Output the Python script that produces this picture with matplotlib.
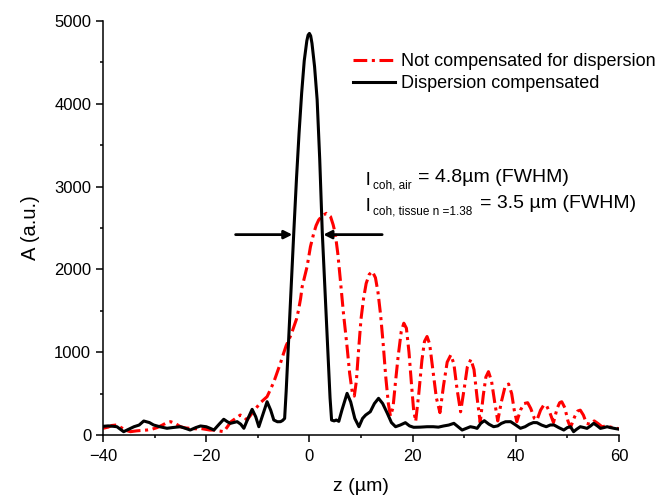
import matplotlib
matplotlib.use("Agg")
import matplotlib.pyplot as plt
from matplotlib.ticker import MultipleLocator

plt.rcParams['font.family'] = ['Liberation Sans', 'DejaVu Sans']

# not compensated for dispersion (red, dash-dot)
z_red = [-40, -39, -38.3, -37.3, -36.5, -35.5, -34.7, -33.5, -32.5, -31.5, -30.5, -29.5, -28.5,
         -27.6, -26.9, -26, -25, -24, -23, -22, -21.2, -20.2, -19.3, -18.5, -17.6, -16.6, -16,
         -15.2, -14.3, -13.4, -12.7, -12.1, -11.5, -10.8, -10.1, -9.5, -8.9, -8.2, -7.6, -6.9,
         -6.3, -5.6, -5.0, -4.5, -4.0, -3.5, -3.0, -2.5, -2.1, -1.7, -1.4, -0.9, -0.45, 0.2,
         0.84, 1.3, 1.8, 2.5, 3.3, 4.1, 4.6, 5.0, 5.5, 6.0, 6.6, 7.3, 7.8, 8.3, 8.7, 9.1, 9.5,
         10, 10.5, 11, 11.6, 12.2, 12.8, 13.3, 13.8, 14.3, 14.8, 15.3, 15.7, 16.2, 16.7, 17.2,
         17.8, 18.3, 18.8, 19.3, 19.8, 20.2, 20.6, 21.2, 21.8, 22.3, 22.8, 23.3, 23.9, 24.6,
         25.3, 26, 26.7, 27.4, 28, 28.6, 29.3, 30, 30.6, 31.3, 31.9, 32.5, 33.1, 33.7, 34.2,
         34.7, 35.3, 35.9, 36.5, 37.2, 37.9, 38.6, 39.2, 39.7, 40.2, 40.9, 41.6, 42.3, 42.9,
         43.6, 44.1, 44.8, 45.4, 45.9, 46.6, 47.3, 48, 48.5, 48.9, 49.5, 50.1, 50.6, 51.4, 52,
         52.5, 53.1, 53.7, 54.4, 55.2, 55.9, 56.7, 57.6, 58.4, 59.3, 60]
a_red = [81, 95, 115, 121, 90, 55, 40, 50, 55, 60, 70, 90, 120,
         150, 161, 140, 100, 85, 80, 75, 80, 70, 60, 60, 50, 40, 90,
         160, 201, 241, 220, 181, 230, 290, 342, 390, 423, 463, 543, 640,
         745, 870, 987, 1080, 1147, 1220, 1308, 1400, 1510, 1650, 1791, 1920, 2033, 2274,
         2436, 2530, 2597, 2650, 2677, 2637, 2540, 2436, 2194, 1872, 1470, 1066, 745, 520, 470, 650, 1000,
         1400, 1650, 1830, 1940, 1975, 1900, 1720, 1450, 1100, 700, 380, 230, 330, 650, 950,
         1250, 1350, 1290, 1000, 600, 300, 165, 500, 900, 1130, 1190, 1100, 800, 450,
         270, 600, 880, 966, 860, 560, 280, 560, 820, 914, 790, 450, 150, 480, 700,
         765, 650, 400, 170, 400, 580, 616, 500, 300, 160, 300, 380, 390, 320,
         200, 180, 300, 360, 362, 270, 150, 320, 390, 402, 330, 170, 90, 220, 290,
         300, 240, 140, 130, 170, 140, 100, 110, 95, 85, 75]

# dispersion compensated (black, solid)
z_blk = [-40, -39, -38, -37.3, -36, -35, -34, -33, -32.1, -31, -30.2, -29, -27.6, -26.5, -25,
         -24, -23.1, -22, -21.1, -20, -19.2, -18.5, -17.5, -16.6, -15.9, -15.3, -14, -13.3,
         -12.7, -11.9, -11.1, -10.4, -9.8, -9, -8.2, -7.5, -6.9, -6.2, -5.6, -5.2, -4.8, -4.5,
         -4, -3.5, -3, -2.5, -2, -1.5, -1, -0.5, -0.25, 0, 0.25, 0.5, 1, 1.5, 2, 2.5, 3, 3.5,
         4, 4.3, 4.8, 5.2, 5.7, 6.3, 7.3, 8, 8.8, 9.6, 10.3, 10.9, 11.8, 12.6, 13.4, 14.2, 15.1,
         15.9, 16.7, 17.6, 18.6, 19.4, 20.2, 21.5, 22.8, 24, 25, 26, 27, 28, 28.8, 29.6, 30.4,
         31.2, 32, 32.5, 33.2, 33.9, 34.8, 35.7, 36.5, 37.2, 38, 39, 40, 40.9, 41.8, 42.6, 43.4,
         44.1, 45, 45.9, 46.7, 47.4, 48.3, 49.3, 50, 50.6, 51.2, 51.8, 52.5, 53.2, 53.8, 54.5,
         55.1, 55.8, 56.4, 57.1, 57.7, 58.3, 59, 60]
a_blk = [105, 110, 105, 100, 40, 70, 100, 120, 169, 150, 121, 100, 81, 90, 100,
         80, 60, 90, 109, 100, 80, 60, 130, 190, 160, 141, 161, 130,
         81, 200, 310, 220, 100, 250, 402, 300, 181, 160, 161, 175, 200, 530,
         1183, 1836, 2480, 3100, 3650, 4130, 4520, 4760, 4830, 4850, 4820, 4730, 4450, 4050,
         3330, 2440, 1780, 1120, 450, 180, 170, 181, 165, 300, 503, 400, 200, 100, 200, 241,
         281, 380, 443, 380, 262, 150, 100, 120, 149, 110, 93, 95, 100, 100, 95, 109, 120, 141,
         100, 60, 80, 100, 90, 80, 140, 173, 130, 100, 110, 140, 160, 161, 120, 81, 100, 130,
         150, 149, 120, 100, 121, 121, 90, 60, 90, 100, 40, 70, 100, 90, 80, 110, 141,
         110, 80, 90, 100, 90, 81, 70]

x_ticks = [-40, -20, 0, 20, 40, 60]
y_ticks = [0, 1000, 2000, 3000, 4000, 5000]

W, H = 658, 498
fig = plt.figure(figsize=(W / 100, H / 100), dpi=100)
ax = fig.add_axes([103 / W, 1 - 435 / H, 516 / W, 414 / H])

red_line, = ax.plot(z_red, a_red, color='#ff0000', lw=2.2, label='Not compensated for dispersion')
red_line.set_dashes((4.5, 1.5, 1, 1.5))
ax.plot(z_blk, a_blk, color='black', lw=2.2, label='Dispersion compensated')

ax.set_xlim(-40, 60)
ax.set_ylim(0, 5000)
ax.set_xticks(x_ticks)
ax.set_yticks(y_ticks)
ax.xaxis.set_minor_locator(MultipleLocator(10))
ax.yaxis.set_minor_locator(MultipleLocator(500))
ax.tick_params(which='major', direction='out', length=5, width=1.1, labelsize=12)
ax.tick_params(axis='x', which='major', pad=5)
ax.tick_params(which='minor', direction='out', length=2.5, width=1.1)
for side in ['top', 'right']:
    ax.spines[side].set_visible(False)
for side in ['left', 'bottom']:
    ax.spines[side].set_linewidth(1.1)

ax.set_xlabel('z (µm)', fontsize=14, labelpad=10)
ax.set_ylabel('A (a.u.)', fontsize=14.5, labelpad=10)

ax.legend(loc='upper left', bbox_to_anchor=(353 / W, 1 - 53 / H), bbox_transform=fig.transFigure,
          frameon=False, fontsize=13, handlelength=2.3, handletextpad=0.35,
          labelspacing=0.3, borderpad=0, borderaxespad=0)

# FWHM arrows
arrow = dict(arrowstyle='-|>', color='black', lw=2.0, mutation_scale=12, shrinkA=0, shrinkB=0)
ax.annotate('', xy=(-3.3, 2420), xytext=(-14.3, 2420), arrowprops=arrow)
ax.annotate('', xy=(2.7, 2420), xytext=(14.1, 2420), arrowprops=arrow)

# coherence length labels (pixel positions)
def ptext(x, y, s, size):
    fig.text(x / W, 1 - y / H, s, fontsize=size, va='baseline', ha='left')

ptext(366, 185, 'l', 14)
ptext(373, 188, 'coh, air', 8.5)
ptext(418, 182, '= 4.8µm (FWHM)', 14)
ptext(366, 211, 'l', 14)
ptext(373, 214, 'coh, tissue n =1.38', 8.5)
ptext(480, 208, '= 3.5 µm (FWHM)', 14)

fig.savefig('out.png', dpi=100)
